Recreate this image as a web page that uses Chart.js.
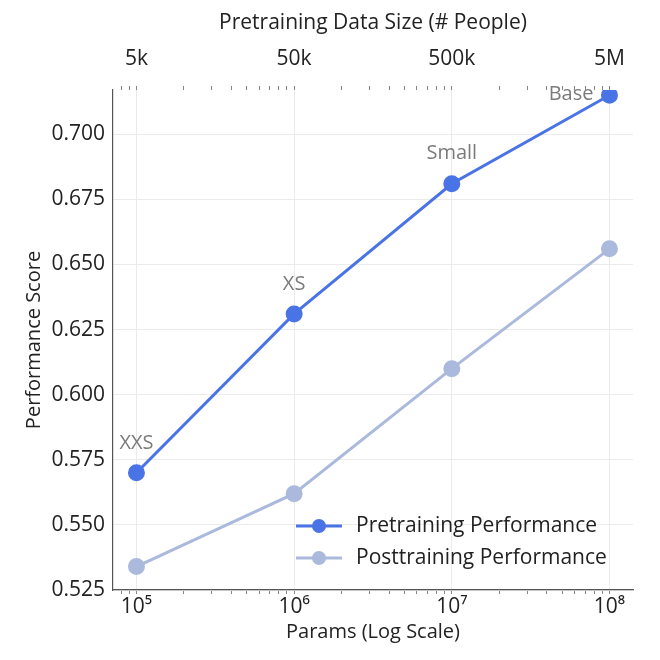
<html lang="en">
  <head>
    <meta charset="utf-8">
    <title>Pretraining vs Posttraining Performance</title>
    <style>
      body { margin: 0; background: white; }
      .chartBox { width: 660px; height: 660px; }
    </style>
  </head>
  <body>
    <div class="chartBox">
      <canvas id="myChart" width="660" height="660"></canvas>
    </div>

    <script type="text/javascript" src="https://cdn.jsdelivr.net/npm/chart.js/dist/chart.umd.min.js"></script>
    <script>
    // data
    const params = [1e5, 1e6, 1e7, 1e8];
    const modelNames = ['XXS', 'XS', 'Small', 'Base'];
    const pretrainScores = [0.570, 0.631, 0.681, 0.715];
    const posttrainScores = [0.534, 0.562, 0.610, 0.656];
    const seriesLabels = ['Pretraining Performance', 'Posttraining Performance'];
    const yTicks = [0.525, 0.550, 0.575, 0.600, 0.625, 0.650, 0.675, 0.700];
    const bottomTickLabels = ['10\u2075', '10\u2076', '10\u2077', '10\u2078'];
    const topTickLabels = ['5k', '50k', '500k', '5M'];
    const peoplePerParam = 1 / 20; // 1e5 params <-> 5k people

    const blue = '#4a74e6';
    const lightBlue = '#aab9dc';
    const font = 'Open Sans';

    // log ticks at 1..9 x 10^n inside the range
    const xMin = 7.1e4, xMax = 1.41e8;
    const logTicks = [];
    for (let e = 4; e <= 8; e++) {
      for (let k = 1; k <= 9; k++) {
        const v = k * Math.pow(10, e);
        if (v >= xMin && v <= xMax) logTicks.push(v);
      }
    }

    const data = {
      datasets: [{
        label: seriesLabels[0],
        data: params.map((x, i) => ({x, y: pretrainScores[i]})),
        borderColor: blue,
        backgroundColor: blue,
        borderWidth: 3,
        pointRadius: 7,
        pointHoverRadius: 7
      }, {
        label: seriesLabels[1],
        data: params.map((x, i) => ({x, y: posttrainScores[i]})),
        borderColor: lightBlue,
        backgroundColor: lightBlue,
        borderWidth: 3,
        pointRadius: 7,
        pointHoverRadius: 7
      }]
    };

    // model size names next to the pretraining points
    const modelLabels = {
      id: 'modelLabels',
      afterDatasetsDraw(chart) {
        const {ctx} = chart;
        const pts = chart.getDatasetMeta(0).data;
        ctx.save();
        ctx.font = '20px ' + font;
        ctx.fillStyle = '#7b7b7b';
        ctx.textBaseline = 'middle';
        pts.forEach((p, i) => {
          if (i === pts.length - 1) {
            ctx.textAlign = 'right';
            ctx.fillText(modelNames[i], p.x - 16, p.y - 1);
          } else {
            ctx.textAlign = 'center';
            ctx.fillText(modelNames[i], p.x, p.y - 30);
          }
        });
        ctx.restore();
      }
    };

    // legend inside the plot, bottom right
    const innerLegend = {
      id: 'innerLegend',
      afterDraw(chart) {
        const {ctx, chartArea} = chart;
        const x0 = chartArea.right - 337;
        ctx.save();
        ctx.font = '21px ' + font;
        ctx.textBaseline = 'middle';
        ctx.textAlign = 'left';
        chart.data.datasets.forEach((ds, i) => {
          const y = chartArea.bottom - 64 + i * 32;
          ctx.strokeStyle = ds.borderColor;
          ctx.lineWidth = 3;
          ctx.beginPath();
          ctx.moveTo(x0, y);
          ctx.lineTo(x0 + 46, y);
          ctx.stroke();
          ctx.fillStyle = ds.backgroundColor;
          ctx.beginPath();
          ctx.arc(x0 + 23, y, 7, 0, Math.PI * 2);
          ctx.fill();
          ctx.fillStyle = '#222';
          ctx.fillText(ds.label, x0 + 60, y);
        });
        ctx.restore();
      }
    };

    const isDecade = (v) => Math.abs(Math.log10(v) - Math.round(Math.log10(v))) < 1e-9;

    const config = {
      type: 'line',
      data,
      options: {
        responsive: false,
        animation: false,
        layout: {padding: {left: 22, right: 27, top: 0, bottom: 16}},
        plugins: {
          legend: {display: false},
          tooltip: {enabled: false}
        },
        scales: {
          x: {
            type: 'logarithmic',
            position: 'bottom',
            min: xMin,
            max: xMax,
            afterBuildTicks(axis) {
              axis.ticks = logTicks.map(v => ({value: v, major: isDecade(v)}));
            },
            afterFit(axis) { axis.height = 54; },
            ticks: {
              autoSkip: false,
              maxRotation: 0,
              padding: 0,
              color: '#222',
              font: {family: font, size: 21},
              callback(v) {
                const i = params.indexOf(v);
                return i >= 0 ? bottomTickLabels[i] : '';
              }
            },
            grid: {
              color: (c) => (c.tick && isDecade(c.tick.value)) ? '#ebebeb' : 'rgba(0,0,0,0)',
              tickColor: '#888',
              tickLength: 4
            },
            border: {display: true, color: '#555', width: 1.2},
            title: {
              display: true,
              text: 'Params (Log Scale)',
              color: '#222',
              font: {family: font, size: 20},
              padding: {top: 0, bottom: 0}
            }
          },
          x2: {
            type: 'logarithmic',
            position: 'top',
            min: xMin * peoplePerParam,
            max: xMax * peoplePerParam,
            afterBuildTicks(axis) {
              axis.ticks = logTicks.map(v => ({value: v * peoplePerParam}));
            },
            afterFit(axis) { axis.height = 90; },
            ticks: {
              autoSkip: false,
              maxRotation: 0,
              padding: 14,
              color: '#222',
              font: {family: font, size: 21},
              callback(v) {
                const i = params.findIndex(p => Math.abs(p * peoplePerParam - v) < 1e-6 * v);
                return i >= 0 ? topTickLabels[i] : '';
              }
            },
            grid: {
              drawOnChartArea: false,
              tickColor: '#888',
              tickLength: 4
            },
            border: {display: false},
            title: {
              display: true,
              text: 'Pretraining Data Size (# People)',
              color: '#222',
              font: {family: font, size: 21},
              padding: {top: 10, bottom: 0}
            }
          },
          y: {
            type: 'linear',
            min: 0.525,
            max: 0.717,
            afterBuildTicks(axis) {
              axis.ticks = yTicks.map(v => ({value: v}));
            },
            afterFit(axis) { axis.width = 91; },
            ticks: {
              padding: 8,
              color: '#222',
              font: {family: font, size: 21},
              callback: (v) => v.toFixed(3)
            },
            grid: {color: '#ebebeb', drawTicks: false},
            border: {display: true, color: '#555', width: 1.2},
            title: {
              display: true,
              text: 'Performance Score',
              color: '#222',
              font: {family: font, size: 20},
              padding: {top: 0, bottom: 0}
            }
          }
        }
      },
      plugins: [modelLabels, innerLegend]
    };

    const myChart = new Chart(document.getElementById('myChart'), config);
    </script>
  </body>
</html>
